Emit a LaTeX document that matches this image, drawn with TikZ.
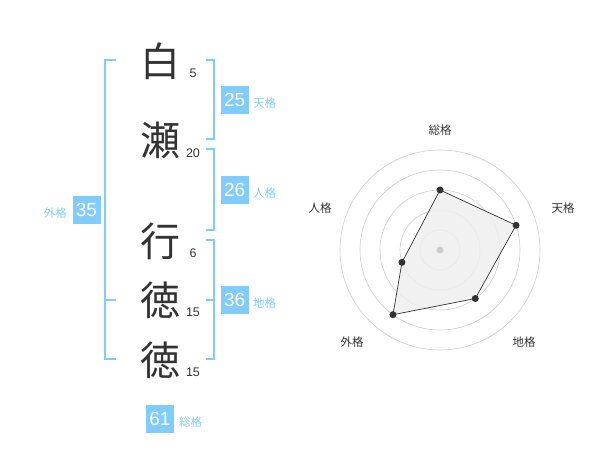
\documentclass[tikz,border=0pt]{standalone}
\usepackage{fontspec}
\setmainfont{Liberation Sans}
\newfontfamily\jp{Noto Sans CJK JP}
\definecolor{kblue}{HTML}{80CCFF}
\definecolor{kdark}{HTML}{333333}
\definecolor{kgrid}{HTML}{CCCCCC}
\definecolor{kfill}{HTML}{EEEEEE}
\begin{document}
\begin{tikzpicture}[x=1pt,y=-1pt,
  kanji/.style={font=\jp\fontsize{40}{40}\selectfont, text=kdark, inner sep=0pt},
  stroke/.style={font=\fontsize{12.5}{12.5}\selectfont, text=kdark, inner sep=0pt},
  numbox/.style={fill=kblue, text=white, minimum width=28, minimum height=28, inner sep=0pt, font=\fontsize{19}{19}\selectfont},
  lbl/.style={font=\jp\fontsize{11.5}{11.5}\selectfont, text=kblue, inner sep=0pt, anchor=west},
  brk/.style={draw=kblue, line width=1.3pt},
  grid/.style={draw=kgrid, line width=0.6pt},
  rlbl/.style={font=\jp\fontsize{11.5}{11.5}\selectfont, text=kdark, inner sep=0pt},
  dot/.style={circle, fill=kdark, inner sep=0pt, minimum size=7}]
\useasboundingbox (0,0) rectangle (600,470);
% kanji
\node[kanji] (k1) at (160,61) {白};
\node[kanji] (k2) at (160,140) {瀬};
\node[kanji] (k3) at (160,241) {行};
\node[kanji] (k4) at (160,300) {徳};
\node[kanji] (k5) at (160,360) {徳};
\node[stroke] (s1) at (193,73) {5};
\node[stroke] (s2) at (193,153) {20};
\node[stroke] (s3) at (193,253) {6};
\node[stroke] (s4) at (193,312) {15};
\node[stroke] (s5) at (193,372) {15};
% brackets
\coordinate (t1) at (206,60); \coordinate (t2) at (214,60);
\coordinate (t3) at (214,139); \coordinate (t4) at (206,139);
\draw[brk] (t1) -- (t2) -- (t3) -- (t4);
\coordinate (j1) at (206,149); \coordinate (j2) at (214,149);
\coordinate (j3) at (214,230); \coordinate (j4) at (206,230);
\draw[brk] (j1) -- (j2) -- (j3) -- (j4);
\coordinate (c1) at (206,240); \coordinate (c2) at (214,240);
\coordinate (c3) at (214,359); \coordinate (c4) at (206,359);
\coordinate (cm1) at (206,300); \coordinate (cm2) at (214,300);
\draw[brk] (c1) -- (c2) -- (c3) -- (c4);
\draw[brk] (cm1) -- (cm2);
\coordinate (g1) at (116,60); \coordinate (g2) at (105,60);
\coordinate (g3) at (105,359); \coordinate (g4) at (116,359);
\coordinate (gm1) at (105,300); \coordinate (gm2) at (116,300);
\draw[brk] (g1) -- (g2) -- (g3) -- (g4);
\draw[brk] (gm1) -- (gm2);
% boxes
\node[numbox] (b25) at (234.7,100) {25};
\node[lbl] (l25) at (253,103) {天格};
\node[numbox] (b26) at (234.7,190) {26};
\node[lbl] (l26) at (253,193) {人格};
\node[numbox] (b35) at (86.5,210) {35};
\node[lbl, anchor=east] (l35) at (67,213) {外格};
\node[numbox] (b36) at (234.7,300) {36};
\node[lbl] (l36) at (253,303) {地格};
\node[numbox] (b61) at (160,419) {61};
\node[lbl] (l61) at (179,422) {総格};
% radar
\coordinate (O) at (440,250);
\foreach \r in {20,40,60,80,100} \draw[grid] (O) circle[radius=\r];
\path (O) ++(0,-60) coordinate (pA);
\path (O) ++(76.08,-24.72) coordinate (pB);
\path (O) ++(35.27,48.54) coordinate (pC);
\path (O) ++(-47.02,64.72) coordinate (pD);
\path (O) ++(-38.04,12.36) coordinate (pE);
\draw[kdark, line width=0.7pt, fill=kfill, fill opacity=0.8] (pA) -- (pB) -- (pC) -- (pD) -- (pE) -- cycle;
\node[circle, fill=kgrid, inner sep=0pt, minimum size=7] (ctr) at (O) {};
\node[dot] (dA) at (pA) {};
\node[dot] (dB) at (pB) {};
\node[dot] (dC) at (pC) {};
\node[dot] (dD) at (pD) {};
\node[dot] (dE) at (pE) {};
\node[rlbl] (rA) at (440,130) {総格};
\node[rlbl] (rB) at (563,208) {天格};
\node[rlbl] (rC) at (524,342) {地格};
\node[rlbl] (rD) at (352,342) {外格};
\node[rlbl] (rE) at (320,208) {人格};
\end{tikzpicture}
\end{document}
